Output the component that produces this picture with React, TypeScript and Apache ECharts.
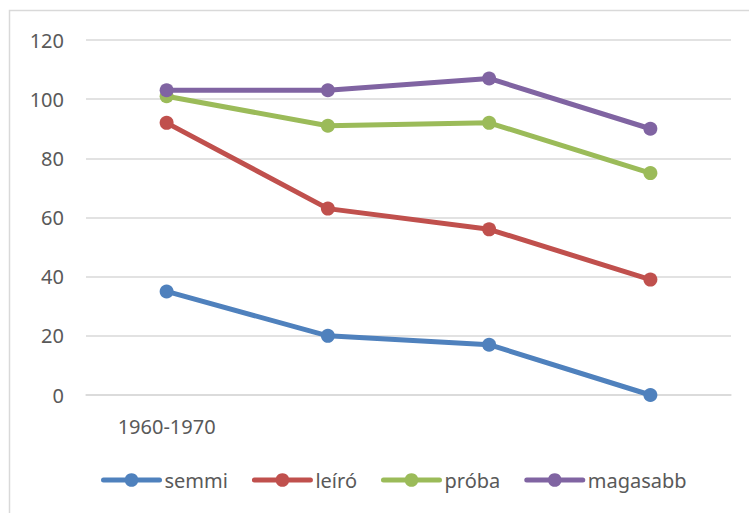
import React, { useEffect, useRef } from "react";
import * as echarts from "echarts";

const categories = ["1960-1970", "", "", ""];
const semmi = [35, 20, 17, 0];
const leiro = [92, 63, 56, 39];
const proba = [101, 91, 92, 75];
const magasabb = [103, 103, 107, 90];
const seriesNames = ["semmi", "leíró", "próba", "magasabb"];
const colors = ["#4F81BD", "#C0504D", "#9BBB59", "#8064A2"];

export default function App() {
  const ref = useRef<HTMLDivElement>(null);
  useEffect(() => {
    if (!ref.current) return;
    const chart = echarts.init(ref.current, undefined, { renderer: "svg" });
    const font = "'Noto Sans', sans-serif";
    const data = [semmi, leiro, proba, magasabb];
    chart.setOption({
      animation: false,
      textStyle: { fontFamily: font },
      graphic: [
        {
          type: "rect",
          shape: { x: 9.5, y: 10.5, width: 800, height: 600 },
          style: { fill: "none", stroke: "#d9d9d9", lineWidth: 1.5 },
          silent: true,
        },
      ],
      grid: { left: 86, right: 18, top: 40, bottom: 118, containLabel: false },
      xAxis: {
        type: "category",
        data: categories,
        boundaryGap: true,
        axisLine: { show: true, lineStyle: { color: "#d9d9d9", width: 1.5 } },
        axisTick: { show: false },
        axisLabel: { color: "#595959", fontSize: 20, fontFamily: font, margin: 21 },
      },
      yAxis: {
        type: "value",
        min: 0,
        max: 120,
        interval: 20,
        axisLine: { show: false },
        axisTick: { show: false },
        axisLabel: { color: "#595959", fontSize: 20, fontFamily: font, margin: 22 },
        splitLine: { lineStyle: { color: "#d9d9d9", width: 1.5 } },
      },
      legend: {
        bottom: 18,
        left: 96,
        itemWidth: 56,
        itemHeight: 17,
        itemGap: 24,
        lineStyle: { width: 5, cap: "round" },
        textStyle: { color: "#595959", fontSize: 20, fontFamily: font },
        data: seriesNames,
      },
      series: data.map((d, i) => ({
        name: seriesNames[i],
        type: "line",
        data: d,
        color: colors[i],
        symbol: "circle",
        symbolSize: 14,
        lineStyle: { width: 5, color: colors[i] },
        itemStyle: { color: colors[i] },
      })),
    });
    return () => chart.dispose();
  }, []);
  return (
    <div
      ref={ref}
      style={{ position: "fixed", left: 0, top: 0, width: 749, height: 513, background: "#fff" }}
    />
  );
}
